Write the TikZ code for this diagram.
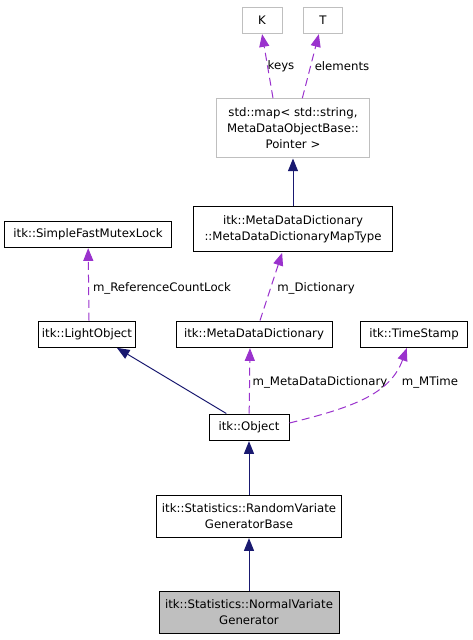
\documentclass[tikz,border=0pt]{standalone}
\usepackage{fontspec}
\setmainfont{DejaVu Sans}
\usepackage{xcolor}
\usepackage{tikz}
\usetikzlibrary{arrows.meta,positioning}

\definecolor{inhcol}{HTML}{191970}
\definecolor{usecol}{HTML}{9A32CD}
\definecolor{tplcol}{HTML}{BFBFBF}

\begin{document}
\begin{tikzpicture}[x=0.75pt,y=-0.75pt,
  box/.style={draw,line width=0.75pt,minimum height=19.5pt,inner sep=1pt,align=center,font=\fontsize{8.8}{12}\selectfont},
  tpl/.style={box,draw=tplcol},
  cur/.style={box,fill=tplcol},
  lbl/.style={inner sep=0pt,font=\fontsize{8.8}{12}\selectfont},
  inh/.style={draw=inhcol,line width=0.75pt,-{Triangle[length=9.5pt,width=7.5pt]},shorten >=0.5pt},
  use/.style={draw=usecol,line width=0.75pt,dash pattern=on 6pt off 3.5pt,-{Triangle[length=9.5pt,width=7.5pt,fill=usecol]},shorten >=0.5pt}]
  \useasboundingbox (0,0) rectangle (473,640);
  \node[tpl,minimum width=30pt] (k) at (262,20) {K};
  \node[tpl,minimum width=29pt] (t) at (323,20) {T};
  \node[tpl,minimum width=115pt,minimum height=44pt] (map) at (293,128) {std::map\textless{} std::string,\\ MetaDataObjectBase::\\Pointer \textgreater{}};
  \node[box,minimum width=149pt,minimum height=34pt] (mtype) at (293,229) {itk::MetaDataDictionary\\::MetaDataDictionaryMapType};
  \node[box,minimum width=125pt] (mutex) at (88,234) {itk::SimpleFastMutexLock};
  \node[box,minimum width=73pt] (light) at (87,334) {itk::LightObject};
  \node[box,minimum width=117pt] (mdd) at (254,334) {itk::MetaDataDictionary};
  \node[box,minimum width=80pt] (ts) at (414,334) {itk::TimeStamp};
  \node[box,minimum width=60pt] (obj) at (249,427) {itk::Object};
  \node[box,minimum width=139pt,minimum height=31.5pt] (rvgb) at (249,516) {itk::Statistics::RandomVariate\\GeneratorBase};
  \node[cur,minimum width=135pt,minimum height=31.5pt] (nvg) at (249,612) {itk::Statistics::NormalVariate\\Generator};
  % member labels
  \node[lbl] (lkeys) at (281,66) {keys};
  \node[lbl] (lelem) at (342,66) {elements};
  \node[lbl] (lrcl) at (162,288) {m\_ReferenceCountLock};
  \node[lbl] (ldict) at (316,288) {m\_Dictionary};
  \node[lbl] (lmdd) at (320,382) {m\_MetaDataDictionary};
  \node[lbl] (lmt) at (430,382) {m\_MTime};
  % edges
  \draw[use] ([xshift=-15pt]map.north) -- ([xshift=0pt]k.south);
  \draw[use] ([xshift=7pt]map.north) -- ([xshift=-3pt]t.south);
  \draw[inh] (mtype) -- (map);
  \draw[use] ([xshift=1.5pt]light.north) -- (mutex);
  \draw[use] ([xshift=4.5pt]mdd.north) -- ([xshift=-8pt]mtype.south);
  \draw[inh] ([xshift=-17pt]obj.north) -- ([xshift=22pt]light.south);
  \draw[use] (obj) -- ([xshift=-3pt]mdd.south);
  \draw[use] ([yshift=3pt]obj.east) .. controls (350,408) and (390,395) .. ([xshift=-5.25pt]ts.south);
  \draw[inh] (rvgb) -- (obj);
  \draw[inh] (nvg) -- (rvgb);
\end{tikzpicture}
\end{document}
